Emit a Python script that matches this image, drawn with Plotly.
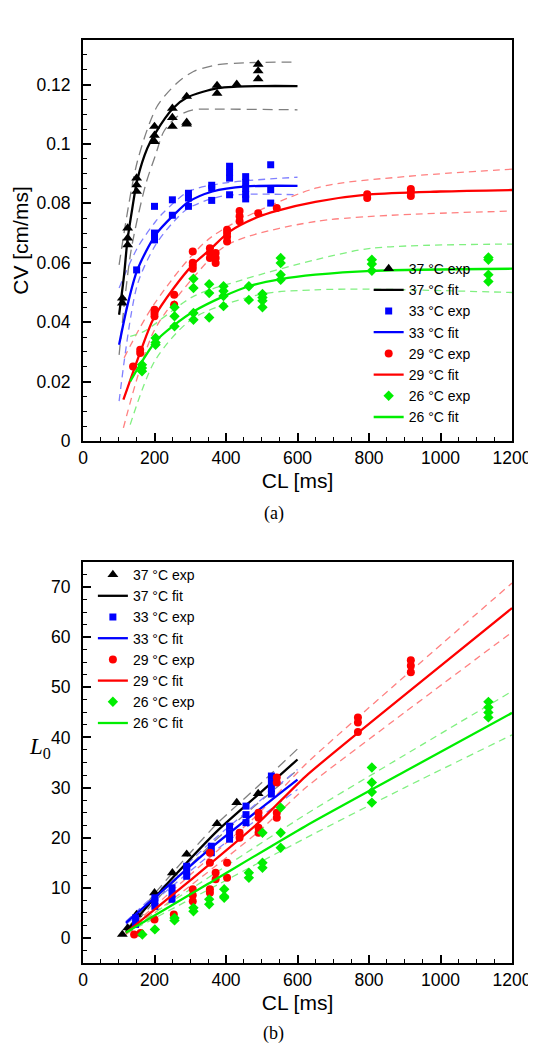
import plotly.graph_objects as go

# ---------------- data: panel (a) CV vs CL ----------------
cl37_cv = [110, 110, 125, 125, 125, 150, 150, 150, 200, 200, 200, 250, 250, 250, 290, 290, 290, 375, 375, 430, 490, 490, 490]
cv37 = [0.0481, 0.0464, 0.0717, 0.0683, 0.0660, 0.0885, 0.0862, 0.0840, 0.1059, 0.1029, 0.1008, 0.1120, 0.1089, 0.1059,
        0.1160, 0.1073, 0.1067, 0.1197, 0.1170, 0.1201, 0.1268, 0.1246, 0.1219]
cl33_cv = [150, 200, 200, 200, 200, 250, 250, 295, 295, 295, 360, 360, 360, 410, 410, 410, 410, 455, 455, 455, 455, 455, 525, 525, 525]
cv33 = [0.0576, 0.0790, 0.0700, 0.0688, 0.0677, 0.0812, 0.0760, 0.0834, 0.0818, 0.0790, 0.0861, 0.0851, 0.0810,
        0.0925, 0.0905, 0.0885, 0.0829, 0.0890, 0.0870, 0.0850, 0.0830, 0.0815, 0.0930, 0.0846, 0.0801]
cl29_cv = [140, 160, 160, 200, 200, 200, 255, 255, 307, 307, 307, 307, 355, 355, 355, 371, 371, 371, 403, 403, 403, 403,
           438, 438, 438, 490, 542, 795, 795, 917, 917, 917]
cv29 = [0.0251, 0.0307, 0.0296, 0.0442, 0.0431, 0.0420, 0.0492, 0.0459, 0.0638, 0.0600, 0.0590, 0.0580, 0.0649, 0.0633,
        0.0616, 0.0633, 0.0616, 0.0599, 0.0711, 0.0700, 0.0688, 0.0672, 0.0774, 0.0757, 0.0740, 0.0767, 0.0784,
        0.0831, 0.0818, 0.0848, 0.0838, 0.0825]
cl26_cv = [165, 165, 165, 203, 203, 203, 256, 256, 256, 309, 309, 309, 309, 353, 353, 353, 393, 393, 393, 393, 464, 464,
           502, 502, 502, 502, 553, 553, 553, 553, 808, 808, 808, 1134, 1134, 1134, 1134]
cv26 = [0.0257, 0.0246, 0.0235, 0.0347, 0.0332, 0.0324, 0.0450, 0.0420, 0.0386, 0.0546, 0.0515, 0.0431, 0.0408,
        0.0528, 0.0498, 0.0416, 0.0521, 0.0505, 0.0488, 0.0454, 0.0521, 0.0475, 0.0495, 0.0483, 0.0472, 0.0450,
        0.0616, 0.0599, 0.0560, 0.0543, 0.0610, 0.0596, 0.0573, 0.0618, 0.0610, 0.0560, 0.0537]

# fitted curves and confidence bands
fit37_cl = [101, 115, 124, 138, 152, 180, 202, 252, 292, 377, 431, 500, 600]
fit37_cv = [0.0425, 0.0560, 0.0672, 0.0784, 0.0880, 0.0986, 0.1036, 0.1120, 0.1157, 0.1188, 0.1193, 0.1195, 0.1195]
up37_cl = [101, 152, 207, 263, 309, 373, 450, 600]
up37_cv = [0.0593, 0.0941, 0.1126, 0.1205, 0.1244, 0.1266, 0.1273, 0.1276]
lo37_cl = [101, 134, 175, 203, 226, 263, 309, 373, 600]
lo37_cv = [0.0290, 0.0638, 0.0862, 0.0963, 0.1042, 0.1092, 0.1115, 0.1117, 0.1115]

fit33_cl = [101, 125, 152, 203, 254, 295, 362, 456, 600]
fit33_cv = [0.0324, 0.0460, 0.0576, 0.0694, 0.0761, 0.0805, 0.0840, 0.0857, 0.0859]
up33_cl = [101, 152, 203, 226, 295, 392, 600]
up33_cv = [0.0515, 0.0650, 0.0739, 0.0770, 0.0840, 0.0868, 0.0888]
lo33_cl = [101, 152, 203, 254, 295, 392, 600]
lo33_cv = [0.0134, 0.0526, 0.0660, 0.0739, 0.0784, 0.0825, 0.0829]

fit29_cl = [113, 161, 198, 254, 307, 355, 410, 491, 542, 650, 800, 1000, 1200]
fit29_cv = [0.0139, 0.0302, 0.0414, 0.0515, 0.0593, 0.0644, 0.0705, 0.0755, 0.0775, 0.0805, 0.0830, 0.0840, 0.0845]
up29_cl = [115, 198, 355, 650, 900, 1200]
up29_cv = [0.0280, 0.0459, 0.0683, 0.0851, 0.0890, 0.0915]
lo29_cl = [113, 198, 307, 403, 650, 1200]
lo29_cv = [0.0044, 0.0369, 0.0548, 0.0660, 0.0739, 0.0774]

fit26_cl = [132, 203, 256, 309, 393, 464, 553, 650, 808, 1200]
fit26_cv = [0.0201, 0.0335, 0.0391, 0.0436, 0.0487, 0.0521, 0.0545, 0.0560, 0.0573, 0.0580]
up26_cl = [132, 171, 309, 447, 650, 808, 1200]
up26_cv = [0.0352, 0.0369, 0.0487, 0.0543, 0.0610, 0.0649, 0.0663]
lo26_cl = [132, 203, 309, 502, 650, 808, 1200]
lo26_cv = [0.0055, 0.0274, 0.0414, 0.0495, 0.0509, 0.0511, 0.0500]

# ---------------- data: panel (b) L0 vs CL ----------------
cl37_l = [110, 125, 150, 200, 250, 290, 375, 430, 490]
l37 = [0.7, 2.0, 4.7, 9.0, 13.0, 16.7, 22.8, 27.0, 28.8]
cl33_l = [147, 147, 201, 201, 201, 249, 249, 249, 290, 290, 290, 359, 359, 410, 410, 410, 456, 456, 456, 527, 527, 527, 527]
l33 = [4.0, 2.7, 8.0, 7.2, 6.3, 10.0, 8.8, 7.7, 14.3, 13.3, 12.3, 18.3, 17.0, 22.3, 21.0, 19.7, 26.3, 24.6, 23.0,
       32.3, 31.0, 29.8, 28.7]
cl29_l = [143, 161, 200, 254, 307, 307, 307, 355, 355, 355, 355, 371, 371, 403, 403, 438, 438, 491, 491, 491, 491,
          542, 542, 542, 542, 769, 769, 769, 917, 917, 917]
l29 = [0.7, 1.0, 3.7, 4.7, 9.7, 8.5, 7.3, 17.0, 15.0, 9.7, 9.0, 13.0, 11.7, 15.0, 12.0, 21.0, 20.0, 25.0, 24.0, 22.0,
       21.0, 32.0, 31.0, 25.0, 24.0, 44.0, 43.0, 41.1, 55.4, 54.3, 53.0]
cl26_l = [166, 201, 256, 256, 309, 309, 353, 353, 395, 395, 395, 464, 464, 502, 502, 502, 553, 553, 553,
          808, 808, 808, 808, 1134, 1134, 1134, 1134]
l26 = [0.7, 1.7, 4.0, 3.5, 6.0, 5.3, 7.7, 6.7, 9.7, 8.3, 8.0, 13.0, 12.0, 21.0, 15.0, 14.0, 26.0, 21.0, 18.0,
       34.0, 31.0, 29.1, 27.0, 47.1, 46.0, 45.0, 44.0]

lfit37_cl = [120, 200, 290, 375, 490, 600]
lfit37 = [1.2, 8.0, 15.0, 21.3, 28.6, 35.6]
lup37 = [1.5, 8.8, 16.2, 22.8, 30.3, 37.7]
llo37 = [0.9, 7.2, 13.8, 19.8, 26.9, 33.5]

lfit33_cl = [120, 200, 359, 600]
lfit33 = [3.0, 8.0, 18.0, 31.6]
lup33 = [3.3, 8.6, 19.2, 33.6]
llo33 = [2.7, 7.4, 16.8, 29.6]

lfit29_cl = [120, 300, 491, 622, 900, 1200]
lfit29 = [1.0, 11.5, 23.0, 32.2, 48.5, 65.8]
lup29 = [1.3, 12.6, 24.8, 34.6, 52.2, 70.8]
llo29 = [0.7, 10.4, 21.2, 29.9, 45.0, 61.0]

lfit26_cl = [120, 350, 622, 900, 1200]
lfit26 = [1.1, 10.8, 22.3, 33.2, 44.9]
lup26 = [1.3, 12.0, 24.6, 36.5, 49.2]
llo26 = [0.9, 9.6, 19.9, 30.0, 40.5]

# ---------------- styling ----------------
series = [
    ("37 °C", "black", "#7f7f7f", "triangle-up", 9.5, "10px,6px"),
    ("33 °C", "#0000ff", "#8080ff", "square", 7, "7px,5px"),
    ("29 °C", "#ff0000", "#ff8080", "circle", 8, "7px,5px"),
    ("26 °C", "#00ee00", "#80f080", "diamond", 8, "7px,5px"),
]
top_exp = [(cl37_cv, cv37), (cl33_cv, cv33), (cl29_cv, cv29), (cl26_cv, cv26)]
top_fit = [(fit37_cl, fit37_cv, up37_cl, up37_cv, lo37_cl, lo37_cv),
           (fit33_cl, fit33_cv, up33_cl, up33_cv, lo33_cl, lo33_cv),
           (fit29_cl, fit29_cv, up29_cl, up29_cv, lo29_cl, lo29_cv),
           (fit26_cl, fit26_cv, up26_cl, up26_cv, lo26_cl, lo26_cv)]
bot_exp = [(cl37_l, l37), (cl33_l, l33), (cl29_l, l29), (cl26_l, l26)]
bot_fit = [(lfit37_cl, lfit37, lup37, llo37), (lfit33_cl, lfit33, lup33, llo33),
           (lfit29_cl, lfit29, lup29, llo29), (lfit26_cl, lfit26, lup26, llo26)]

FONT = "Liberation Sans, Arial, sans-serif"
SERIF = "Liberation Serif"
fig = go.Figure()

# bands first (behind)
for (name, col, lcol, sym, ms, dsh), (fc, fv, uc, uv, lc, lv) in zip(series, top_fit):
    for xx, yy in ((uc, uv), (lc, lv)):
        fig.add_trace(go.Scatter(x=xx, y=yy, mode="lines", line=dict(color=lcol, width=1.3, dash=dsh, shape="spline", smoothing=0.8),
                                 showlegend=False, hoverinfo="skip", xaxis="x", yaxis="y"))
for (name, col, lcol, sym, ms, dsh), (fc, fv, uv, lv) in zip(series, bot_fit):
    for yy in (uv, lv):
        fig.add_trace(go.Scatter(x=fc, y=yy, mode="lines", line=dict(color=lcol, width=1.3, dash=dsh, shape="spline", smoothing=0.6),
                                 showlegend=False, hoverinfo="skip", xaxis="x2", yaxis="y2"))

for (name, col, lcol, sym, ms, dsh), (ex, ey), (fc, fv, *_r) in zip(series, top_exp, top_fit):
    fig.add_trace(go.Scatter(x=ex, y=ey, mode="markers", name=name + " exp",
                             marker=dict(color=col, symbol=sym, size=ms, line=dict(width=0)),
                             xaxis="x", yaxis="y", legend="legend"))
    fig.add_trace(go.Scatter(x=fc, y=fv, mode="lines", name=name + " fit",
                             line=dict(color=col, width=2.3, shape="spline", smoothing=0.8),
                             xaxis="x", yaxis="y", legend="legend"))
for (name, col, lcol, sym, ms, dsh), (ex, ey), (fc, fv, *_r) in zip(series, bot_exp, bot_fit):
    fig.add_trace(go.Scatter(x=ex, y=ey, mode="markers", name=name + " exp",
                             marker=dict(color=col, symbol=sym, size=ms, line=dict(width=0)),
                             xaxis="x2", yaxis="y2", legend="legend2"))
    fig.add_trace(go.Scatter(x=fc, y=fv, mode="lines", name=name + " fit",
                             line=dict(color=col, width=2.3, shape="spline", smoothing=0.6),
                             xaxis="x2", yaxis="y2", legend="legend2"))

axis_common = dict(showgrid=False, zeroline=False, showline=True, linecolor="black", linewidth=2,
                   mirror=True, ticks="inside", ticklen=8, tickwidth=1.5, tickcolor="black",
                   tickfont=dict(family=FONT, size=17.5, color="black"))
W, H = 536, 1050
ml, mr, mt, mb = 75, 27, 32, 95
PW = W - ml - mr
ph = H - mt - mb
top_lo = (H - mb - 433) / ph

fig.update_layout(
    width=W, height=H, margin=dict(l=ml, r=mr, t=mt, b=mb),
    paper_bgcolor="white", plot_bgcolor="white",
    font=dict(family=FONT, color="black"),
    xaxis=dict(domain=[0, 1], range=[0, 1200], dtick=200, anchor="y",
               minor=dict(dtick=50, ticklen=4, tickwidth=1.2, ticks="inside", tickcolor="black"),
               title=dict(text="CL [ms]", font=dict(family=FONT, size=21), standoff=6), **axis_common),
    yaxis=dict(domain=[top_lo, 1], range=[0, 0.135], dtick=0.02, anchor="x", ticklabelstandoff=7,
               minor=dict(dtick=0.005, ticklen=4, tickwidth=1.2, ticks="inside", tickcolor="black"),
               title=dict(text="CV [cm/ms]", font=dict(family=FONT, size=21), standoff=2), **axis_common),
    xaxis2=dict(domain=[0, 1], range=[0, 1200], dtick=200, anchor="y2",
                minor=dict(dtick=50, ticklen=4, tickwidth=1.2, ticks="inside", tickcolor="black"),
                title=dict(text="CL [ms]", font=dict(family=FONT, size=21), standoff=6), **axis_common),
    yaxis2=dict(domain=[0, (H - mb - 554) / ph], range=[-5, 75], dtick=10, tick0=0, anchor="x2", ticklabelstandoff=7,
                minor=dict(dtick=2.5, ticklen=4, tickwidth=1.2, ticks="inside", tickcolor="black"),
                **axis_common),
    legend=dict(x=(364 - ml) / PW, y=(H - mb - 425) / ph, xanchor="left", yanchor="bottom",
                bgcolor="rgba(0,0,0,0)", font=dict(family=FONT, size=14, color="black"), tracegroupgap=0),
    legend2=dict(x=(85 - ml) / PW, y=(H - mb - 551) / ph, xanchor="left", yanchor="top",
                 bgcolor="rgba(0,0,0,0)", font=dict(family=FONT, size=14, color="black"), tracegroupgap=0),
    showlegend=True,
    annotations=[
        dict(text="<i>L</i><sub>0</sub>", x=(31 - ml) / PW, y=(H - mb - 740) / ph, xref="paper", yref="paper",
             xanchor="center", yanchor="middle", showarrow=False,
             font=dict(family=SERIF, size=23, color="black")),
        dict(text="(a)", x=(268 - ml) / PW, y=(H - mb - 505) / ph, xref="paper", yref="paper",
             xanchor="center", yanchor="middle", showarrow=False,
             font=dict(family=SERIF, size=18, color="black")),
        dict(text="(b)", x=(268 - ml) / PW, y=(H - mb - 1025) / ph, xref="paper", yref="paper",
             xanchor="center", yanchor="middle", showarrow=False,
             font=dict(family=SERIF, size=18, color="black")),
    ],
)

fig.write_html("out.html")
